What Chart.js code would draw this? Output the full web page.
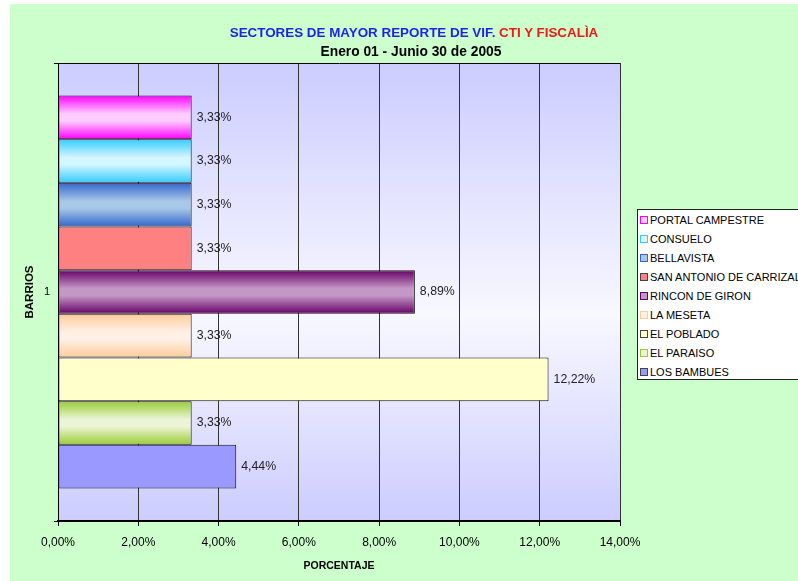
<!DOCTYPE html>
<html>
<head>
<meta charset="utf-8">
<script src="https://cdn.jsdelivr.net/npm/chart.js@4"></script>
<style>
  body { margin: 0; background: #fff; width: 798px; height: 581px; overflow: hidden; position: relative; font-family: "Liberation Sans", Arial, sans-serif; }
  #fundo { position: absolute; left: 10px; top: 4px; width: 788px; height: 577px; background: #CCFFCC; }
  #grafico { position: absolute; left: 0; top: 0; }
  .titulo { position: absolute; left: 0; width: 798px; text-align: center; font-weight: bold; line-height: 16px; padding-left: 30px; box-sizing: border-box; }
  #titulo1 { top: 25px; color: #1F1FF0; font-size: 13.4px; }
  #titulo1 span { color: #F01818; }
  #titulo2 { top: 44px; color: #000; font-size: 13.8px; padding-left: 24px; }
  #legenda { position: absolute; left: 637px; top: 209px; width: 200px; height: 169px; background: #fff; border: 1px solid #222; font-size: 11px; }
  .item { position: absolute; left: 2px; height: 14px; line-height: 14px; white-space: nowrap; color: #000; }
  .marca { display: inline-block; width: 6px; height: 6px; border: 1px solid #000; margin-right: 2px; vertical-align: 0px; }
</style>
</head>
<body>
<div id="fundo"></div>
<canvas id="grafico" width="798" height="581"></canvas>
<div class="titulo" id="titulo1">SECTORES DE MAYOR REPORTE DE VIF. <span>CTI Y FISCALÌA</span></div>
<div class="titulo" id="titulo2">Enero 01 - Junio 30 de 2005</div>
<div id="legenda"></div>
<script>
// categorias (barrios) na ordem de cima para baixo
var barrios = ['PORTAL CAMPESTRE', 'CONSUELO', 'BELLAVISTA', 'SAN ANTONIO DE CARRIZAL', 'RINCON DE GIRON', 'LA MESETA', 'EL POBLADO', 'EL PARAISO', 'LOS BAMBUES']

// porcentagem de cada barrio
var porcentajes = [3.33, 3.33, 3.33, 3.33, 8.89, 3.33, 12.22, 3.33, 4.44]

// rotulo do eixo y (uma so categoria)
var categorias = ['1']

// marcas do eixo x
var ticksX = [0, 2, 4, 6, 8, 10, 12, 14]

// cores: borda do degrade e centro
var corBorda = ['#FF00FF', '#33CCFF', '#3366CC', '#FF8080', '#660066', '#FFCC99', '#FFFFCC', '#99CC33', '#9999FF']
var corCentro = ['#FFCCFF', '#D4F6FF', '#A8C8E8', '#FF8080', '#C498C4', '#FFF0E6', '#FFFFCC', '#EBF5D6', '#9999FF']

var fonte = '"Liberation Sans", Arial, sans-serif'

function formatar(v) {
    return v.toFixed(2).replace('.', ',') + '%'
}

// montar datasets
var conjuntos = []
for (let i = 0; i < barrios.length; i++) {
    conjuntos.push({
        label: barrios[i],
        data: [porcentajes[i]],
        backgroundColor: corCentro[i],
        borderColor: '#111',
        borderWidth: 1,
        borderSkipped: false,
        barPercentage: 1,
        categoryPercentage: 0.858
    })
}

// fundo da area do grafico com degrade
var fundoArea = {
    id: 'fundoArea',
    beforeDraw(chart) {
        var a = chart.chartArea
        var ctx = chart.ctx
        var g = ctx.createLinearGradient(0, a.top, 0, a.bottom)
        g.addColorStop(0, '#CCCCFF')
        g.addColorStop(0.55, '#F8F8FF')
        g.addColorStop(1, '#CCCCFF')
        ctx.save()
        ctx.fillStyle = g
        ctx.fillRect(a.left, a.top, a.right - a.left, a.bottom - a.top)
        ctx.restore()
    }
}

// degrade em cada barra
var degradeBarras = {
    id: 'degradeBarras',
    beforeDatasetsDraw(chart) {
        var ctx = chart.ctx
        chart.data.datasets.forEach(function (ds, i) {
            chart.getDatasetMeta(i).data.forEach(function (el) {
                if (corBorda[i] == corCentro[i]) return
                var y0 = el.y - el.height / 2
                var y1 = el.y + el.height / 2
                var g = ctx.createLinearGradient(0, y0, 0, y1)
                g.addColorStop(0, corBorda[i])
                g.addColorStop(0.42, corCentro[i])
                g.addColorStop(0.58, corCentro[i])
                g.addColorStop(1, corBorda[i])
                el.options.backgroundColor = g
            })
        })
    }
}

// rotulos com o valor no fim da barra
var rotulos = {
    id: 'rotulos',
    afterDatasetsDraw(chart) {
        var ctx = chart.ctx
        ctx.save()
        ctx.font = '12.3px ' + fonte
        ctx.fillStyle = '#222'
        ctx.textBaseline = 'middle'
        ctx.textAlign = 'left'
        chart.data.datasets.forEach(function (ds, i) {
            chart.getDatasetMeta(i).data.forEach(function (el, j) {
                ctx.fillText(formatar(ds.data[j]), el.x + 5, el.y)
            })
        })
        ctx.restore()
    }
}

var grafico = new Chart(document.getElementById('grafico'), {
    type: 'bar',
    data: { labels: categorias, datasets: conjuntos },
    options: {
        indexAxis: 'y',
        responsive: false,
        animation: false,
        layout: { padding: { left: 10, top: 63, right: 178, bottom: 0 } },
        plugins: {
            legend: { display: false },
            title: { display: false },
            tooltip: { enabled: false }
        },
        scales: {
            x: {
                min: ticksX[0],
                max: ticksX[ticksX.length - 1],
                afterBuildTicks: function (s) { s.ticks = ticksX.map(v => ({ value: v })) },
                ticks: { callback: v => formatar(v), color: '#000', font: { family: fonte, size: 12 }, padding: 9, maxRotation: 0 },
                grid: { color: '#333', tickLength: 5, tickColor: '#000' },
                border: { color: '#000', width: 2 },
                title: { display: true, text: 'PORCENTAJE', color: '#000', font: { family: fonte, size: 10.5, weight: 'bold' }, padding: { top: 0, bottom: 9 } },
                afterFit: function (s) { s.height = 60 }
            },
            y: {
                ticks: { color: '#000', font: { family: fonte, size: 11 }, padding: 4 },
                grid: { color: '#000', tickLength: 4, offset: true },
                border: { color: '#000', width: 1 },
                title: { display: true, text: 'BARRIOS', color: '#000', font: { family: fonte, size: 11.5, weight: 'bold' }, padding: { top: 13, bottom: 0 } },
                afterFit: function (s) { s.width = 48 }
            }
        }
    },
    plugins: [fundoArea, degradeBarras, rotulos]
})

// legenda em html
var legenda = document.getElementById('legenda')
for (let i = 0; i < barrios.length; i++) {
    var item = document.createElement('div')
    item.className = 'item'
    item.style.top = (3 + i * 19) + 'px'
    var borda = corBorda[i] == corCentro[i] ? '#444' : corBorda[i]
    item.innerHTML = `<span class="marca" style="background:${corCentro[i]};border-color:${borda}"></span>${barrios[i]}`
    legenda.appendChild(item)
}
</script>
</body>
</html>
